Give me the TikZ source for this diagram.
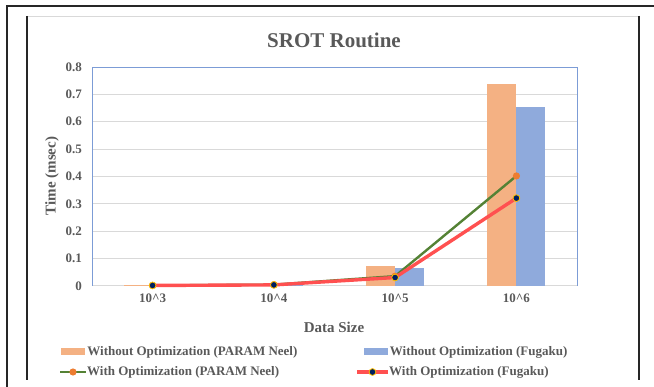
\documentclass[tikz,border=0pt]{standalone}
\usepackage{fontspec}
\setmainfont{Liberation Serif}
\usetikzlibrary{positioning,calc}
\definecolor{barneel}{HTML}{F4B183}
\definecolor{barfugaku}{HTML}{8FAADC}
\definecolor{lineneel}{HTML}{548235}
\definecolor{dotneel}{HTML}{ED7D31}
\definecolor{linefugaku}{HTML}{FF5050}
\definecolor{dotfugaku}{HTML}{002060}
\definecolor{ringfugaku}{HTML}{FFC000}
\definecolor{txtgray}{HTML}{595959}
\definecolor{gridgray}{HTML}{D9D9D9}
\definecolor{frameblue}{HTML}{4472C4}
\tikzset{
  lbl/.style={text=txtgray, font=\fontsize{13}{14}\selectfont\bfseries, inner sep=1pt},
  axtitle/.style={text=txtgray, font=\fontsize{15}{16}\selectfont\bfseries, inner sep=1pt},
  swatch/.style={minimum width=24pt, minimum height=7pt, inner sep=0pt},
  neelline/.style={lineneel, line width=2.4pt},
  fugakuline/.style={linefugaku, line width=3.4pt},
  neeldot/.style={fill=dotneel},
  fugakudot/.style={fill=dotfugaku, draw=ringfugaku, line width=0.8pt}
}
\begin{document}
\begin{tikzpicture}[x=1pt,y=-1pt]
  \useasboundingbox (0,0) rectangle (654,387);
  % frames
  \draw[line width=2pt, black!85] (7,387) -- (7,6) -- (654,6);
  \draw[line width=0.8pt, gridgray] (27,16) -- (639,16);
  \draw[line width=1.4pt, black!85] (27,16) -- (27,380);
  \draw[line width=1.4pt, black!85] (639,16) -- (639,380);
  \node[text=txtgray, font=\fontsize{21}{22}\selectfont\bfseries] (title) at (334,40) {SROT Routine};
  % grid and axes
  \foreach \i in {1,...,7} \draw[gridgray, line width=0.9pt] (92,{286-\i*27.375}) -- (577,{286-\i*27.375});
  \draw[gridgray, line width=1pt] (92,286) -- (577,286);
  \foreach \i/\lab in {0/0,1/0.1,2/0.2,3/0.3,4/0.4,5/0.5,6/0.6,7/0.7,8/0.8}
    \node[lbl, anchor=east] (ytick\i) at (83,{286-\i*27.375}) {\lab};
  % bars: PARAM Neel left, Fugaku right
  \foreach \c/\vn/\vf in {152.6/0.003/0.001,273.9/0.004/0.005,395.1/0.073/0.066,516.4/0.738/0.654} {
    \fill[barneel] (\c-29,286) rectangle (\c,{286-\vn*273.75});
    \fill[barfugaku] (\c,286) rectangle (\c+29,{286-\vf*273.75});
  }
  \draw[frameblue!70, line width=0.9pt] (92,286) -- (92,67) -- (577,67) -- (577,286);
  \foreach \k/\c in {3/152.6,4/273.9,5/395.1,6/516.4}
    \node[lbl] (xtick\k) at (\c,298) {10\textasciicircum\k};
  % optimized runs
  \foreach \k/\c/\vn/\vf in {3/152.6/0.002/0.002,4/273.9/0.005/0.004,5/395.1/0.036/0.031,6/516.4/0.402/0.321} {
    \coordinate (neel\k) at (\c,{286-\vn*273.75});
    \coordinate (fug\k) at (\c,{286-\vf*273.75});
  }
  \draw[neelline] (neel3) -- (neel4) -- (neel5) -- (neel6);
  \foreach \k in {3,...,6} \fill[neeldot] (neel\k) circle (3.6pt);
  \draw[fugakuline] (fug3) -- (fug4) -- (fug5) -- (fug6);
  \foreach \k in {3,...,6} \filldraw[fugakudot] (fug\k) circle (3.4pt);
  % axis titles
  \node[axtitle, rotate=90] (ytitle) at (52,176) {Time (msec)};
  \node[axtitle] (xtitle) at (334,327) {Data Size};
  % legend
  \node[swatch, fill=barneel] (legneelbar) at (73,352) {};
  \node[lbl, right=1pt of legneelbar] (legneelbartxt) {Without Optimization (PARAM Neel)};
  \node[swatch, fill=barfugaku] (legfugbar) at (375.5,352) {};
  \node[lbl, right=1pt of legfugbar] (legfugbartxt) {Without Optimization (Fugaku)};
  \coordinate (legneela) at (60,372);
  \coordinate (legneelb) at (86,372);
  \draw[neelline] (legneela) -- (legneelb);
  \fill[neeldot] ($(legneela)!0.5!(legneelb)$) circle (3.6pt);
  \node[lbl, anchor=west] (legneeltxt) at (legneelb) {With Optimization (PARAM Neel)};
  \coordinate (legfuga) at (357,372);
  \coordinate (legfugb) at (388,372);
  \draw[fugakuline] (legfuga) -- (legfugb);
  \filldraw[fugakudot] ($(legfuga)!0.5!(legfugb)$) circle (3.4pt);
  \node[lbl, anchor=west] (legfugtxt) at (legfugb) {With Optimization (Fugaku)};
\end{tikzpicture}
\end{document}
